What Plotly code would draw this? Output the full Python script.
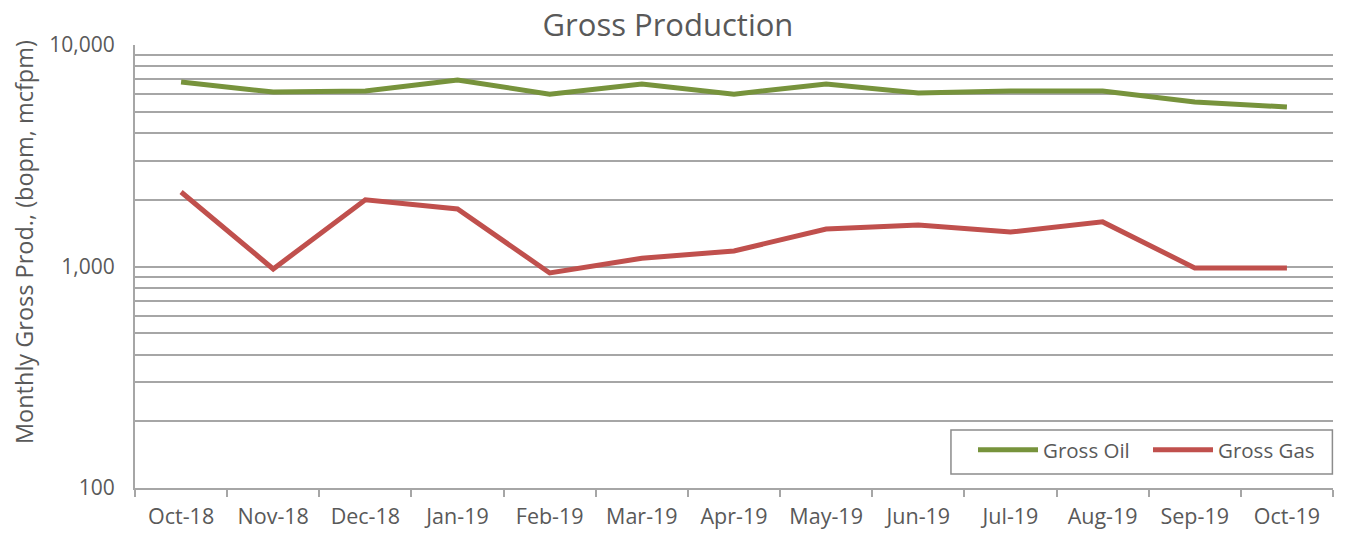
import plotly.graph_objects as go

months = ["Oct-18", "Nov-18", "Dec-18", "Jan-19", "Feb-19", "Mar-19", "Apr-19",
          "May-19", "Jun-19", "Jul-19", "Aug-19", "Sep-19", "Oct-19"]
gross_oil = [6800, 6130, 6200, 6950, 6000, 6670, 6000, 6670, 6070, 6200, 6200, 5530, 5250]
gross_gas = [2170, 975, 2000, 1820, 935, 1090, 1175, 1477, 1540, 1430, 1590, 985, 985]

major_vals = [100, 1000, 10000]
major_text = ["100", "1,000", "10,000"]
grid_vals = [100, 200, 300, 400, 500, 600, 700, 800, 900,
             1000, 2000, 3000, 4000, 5000, 6000, 7000, 8000, 9000, 10000]

font_family = "Open Sans, Lato, sans-serif"
text_col = "#595959"
grid_col = "#a6a6a6"

fig = go.Figure()
fig.add_trace(go.Scatter(x=months, y=gross_oil, name="Gross Oil", mode="lines",
                         line=dict(color="#77933C", width=5)))
fig.add_trace(go.Scatter(x=months, y=gross_gas, name="Gross Gas", mode="lines",
                         line=dict(color="#C0504D", width=5)))

fig.update_layout(
    width=1345, height=533,
    margin=dict(l=127, r=20, t=37, b=53, autoexpand=False),
    paper_bgcolor="white", plot_bgcolor="white",
    title=dict(text="Gross Production", x=0.4907, xanchor="center", y=0.968, yanchor="middle",
               font=dict(family=font_family, size=31, color=text_col)),
    font=dict(family=font_family, size=20, color=text_col),
    showlegend=True,
    legend=dict(orientation="h", x=0.6995, xanchor="left", y=0.131, yanchor="top",
                borderwidth=0, bgcolor="rgba(0,0,0,0)",
                font=dict(family=font_family, size=20.5, color=text_col),
                itemwidth=60, entrywidth=100, tracegroupgap=0),
    shapes=[dict(type="rect", xref="paper", yref="paper",
                 x0=0.6811, x1=0.9995, y0=0.0316, y1=0.1309,
                 line=dict(color="#8c8c8c", width=1.5), fillcolor="white", layer="above")],
    xaxis=dict(type="category", range=[-0.5, 12.5], showgrid=False,
               showline=True, linecolor=grid_col, linewidth=2,
               ticks="outside", tickson="boundaries", ticklen=7, tickcolor=grid_col,
               tickwidth=2, ticklabelstandoff=8, automargin=False,
               tickfont=dict(size=21.5, color=text_col)),
    yaxis=dict(type="log", range=[2, 4], tickmode="array",
               tickvals=grid_vals,
               ticktext=[major_text[major_vals.index(v)] if v in major_vals else "" for v in grid_vals],
               showgrid=True, gridcolor=grid_col, gridwidth=2,
               showline=True, linecolor=grid_col, linewidth=2,
               ticks="", zeroline=False, ticklabelstandoff=14, automargin=False,
               tickfont=dict(size=21, color=text_col)),
    annotations=[dict(text="Monthly Gross Prod., (bopm, mcfpm)", textangle=-90,
                      xref="paper", yref="paper", x=-0.0927, y=0.555,
                      xanchor="center", yanchor="middle", showarrow=False,
                      font=dict(family=font_family, size=23.5, color=text_col))],
)

fig.write_html("out.html")
